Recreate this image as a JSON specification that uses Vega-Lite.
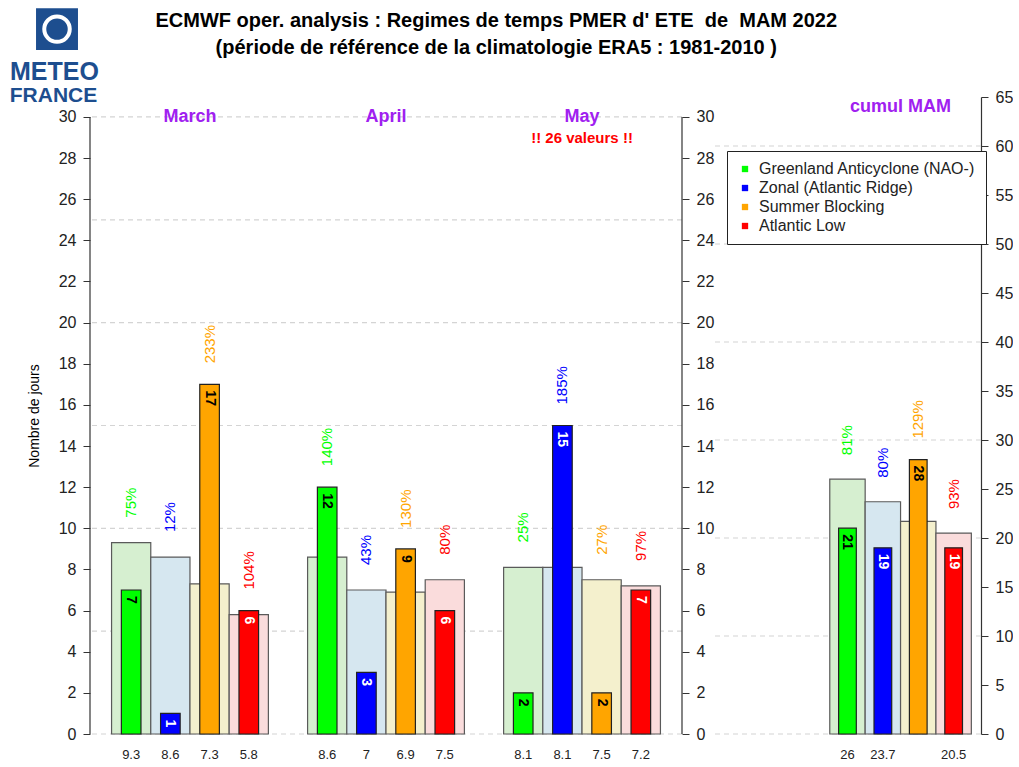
{
  "$schema": "https://vega.github.io/schema/vega-lite/v6.json",
  "padding": {"left": 9, "top": 8, "right": 0, "bottom": 0},
  "background": "white",
  "config": {
    "view": {"stroke": null},
    "font": "Liberation Sans"
  },
  "title": {
    "text": ["ECMWF oper. analysis : Regimes de temps PMER d' ETE\u00a0 de\u00a0 MAM 2022", "(période de référence de la climatologie ERA5 : 1981-2010 )"],
    "fontSize": 20, "fontWeight": "bold", "font": "Liberation Sans", "color": "#000000",
    "lineHeight": 27, "anchor": "middle", "offset": -50, "dx": -15
  },
  "datasets": {
    "monthly": [
      {"month": "March", "regime": "Greenland Anticyclone (NAO-)", "obs": 7, "clim": 9.3, "share": 0.75},
      {"month": "March", "regime": "Zonal (Atlantic Ridge)", "obs": 1, "clim": 8.6, "share": 0.12},
      {"month": "March", "regime": "Summer Blocking", "obs": 17, "clim": 7.3, "share": 2.33},
      {"month": "March", "regime": "Atlantic Low", "obs": 6, "clim": 5.8, "share": 1.04},
      {"month": "April", "regime": "Greenland Anticyclone (NAO-)", "obs": 12, "clim": 8.6, "share": 1.40},
      {"month": "April", "regime": "Zonal (Atlantic Ridge)", "obs": 3, "clim": 7, "share": 0.43},
      {"month": "April", "regime": "Summer Blocking", "obs": 9, "clim": 6.9, "share": 1.30},
      {"month": "April", "regime": "Atlantic Low", "obs": 6, "clim": 7.5, "share": 0.80},
      {"month": "May", "regime": "Greenland Anticyclone (NAO-)", "obs": 2, "clim": 8.1, "share": 0.25},
      {"month": "May", "regime": "Zonal (Atlantic Ridge)", "obs": 15, "clim": 8.1, "share": 1.85},
      {"month": "May", "regime": "Summer Blocking", "obs": 2, "clim": 7.5, "share": 0.27},
      {"month": "May", "regime": "Atlantic Low", "obs": 7, "clim": 7.2, "share": 0.97}
    ],
    "cumul": [
      {"month": "MAM", "regime": "Greenland Anticyclone (NAO-)", "obs": 21, "clim": 26, "share": 0.81},
      {"month": "MAM", "regime": "Zonal (Atlantic Ridge)", "obs": 19, "clim": 23.7, "share": 0.80},
      {"month": "MAM", "regime": "Summer Blocking", "obs": 28, "clim": 21.7, "share": 1.29},
      {"month": "MAM", "regime": "Atlantic Low", "obs": 19, "clim": 20.5, "share": 0.93}
    ],
    "months": [{"month": "March"}, {"month": "April"}, {"month": "May"}],
    "leftgrid": [{"g": 0}, {"g": 5}, {"g": 10}, {"g": 15}, {"g": 20}, {"g": 25}, {"g": 30}],
    "rightgrid": [{"g": 0}, {"g": 10}, {"g": 20}, {"g": 30}, {"g": 40}, {"g": 50}, {"g": 60}],
    "note": [{"note": "!! 26 valeurs !!"}],
    "cumullabel": [{"label": "cumul MAM"}],
    "logo": [{"org": "METEO FRANCE"}]
  },
  "spacing": 32,
  "bounds": "flush",
  "resolve": {
    "scale": {"fill": "independent", "color": "independent", "y": "independent", "x": "independent", "xOffset": "independent"},
    "legend": {"fill": "independent", "color": "independent"}
  },
  "hconcat": [
    {
      "width": 592,
      "height": 637,
      "resolve": {"scale": {"x": "independent"}, "axis": {"y": "independent"}},
      "layer": [
        {
          "data": {"name": "monthly"},
          "resolve": {"scale": {"xOffset": "independent"}},
          "layer": [
            {
              "data": {"name": "leftgrid"},
              "mark": {"type": "rule", "color": "#d4d4d4", "strokeDash": [5, 4], "strokeWidth": 1.2},
              "encoding": {
                "y": {
                  "field": "g", "type": "quantitative",
                  "scale": {"domain": [0, 30.97], "nice": false, "zero": true},
                  "axis": {
                    "orient": "left", "values": [0, 2, 4, 6, 8, 10, 12, 14, 16, 18, 20, 22, 24, 26, 28, 30],
                    "title": "Nombre de jours", "grid": false, "domain": false,
                    "tickSize": 7, "tickColor": "#333333", "labelFontSize": 16, "labelColor": "#222222",
                    "labelPadding": 7, "titleFontSize": 14, "titleFontWeight": "normal", "titleColor": "#000000",
                    "titlePadding": 17
                  }
                }
              }
            },
            {
              "mark": {"type": "bar", "stroke": "#5a5a5a", "strokeWidth": 1.2},
              "encoding": {
                "x": {"field": "month", "type": "nominal", "scale": {"domain": ["March", "April", "May"], "paddingInner": 0.2, "paddingOuter": 0.11}, "axis": null},
                "xOffset": {"field": "regime", "type": "nominal", "scale": {"domain": ["Greenland Anticyclone (NAO-)", "Zonal (Atlantic Ridge)", "Summer Blocking", "Atlantic Low"], "paddingInner": 0, "paddingOuter": 0}},
                "y": {"field": "clim", "type": "quantitative", "title": "Nombre de jours"},
                "fill": {"condition": [
                  {"test": "datum.regime === 'Greenland Anticyclone (NAO-)'", "value": "#d6efd0"},
                  {"test": "datum.regime === 'Zonal (Atlantic Ridge)'", "value": "#d6e7f0"},
                  {"test": "datum.regime === 'Summer Blocking'", "value": "#f4f0cd"}
                ], "value": "#fadcdc"}
              }
            },
            {
              "mark": {"type": "bar", "stroke": "#222222", "strokeWidth": 1.2},
              "encoding": {
                "x": {"field": "month", "type": "nominal"},
                "xOffset": {"field": "regime", "type": "nominal", "scale": {"domain": ["Greenland Anticyclone (NAO-)", "Zonal (Atlantic Ridge)", "Summer Blocking", "Atlantic Low"], "paddingInner": 0.5, "paddingOuter": 0.25}},
                "y": {"field": "obs", "type": "quantitative", "title": "Nombre de jours"},
                "color": {"field": "regime", "type": "nominal", "scale": {"domain": ["Greenland Anticyclone (NAO-)", "Zonal (Atlantic Ridge)", "Summer Blocking", "Atlantic Low"], "range": ["#00ff00", "#0000ff", "#ffa500", "#ff0000"]}, "legend": null}
              }
            },
            {
              "mark": {"type": "text", "angle": 90, "align": "left", "baseline": "middle", "dx": 6, "fontSize": 14, "fontWeight": "bold"},
              "encoding": {
                "x": {"field": "month", "type": "nominal"},
                "xOffset": {"field": "regime", "type": "nominal", "scale": {"type": "point", "padding": 0.5, "domain": ["Greenland Anticyclone (NAO-)", "Zonal (Atlantic Ridge)", "Summer Blocking", "Atlantic Low"]}},
                "y": {"field": "obs", "type": "quantitative", "title": "Nombre de jours"},
                "text": {"field": "obs", "type": "quantitative"},
                "fill": {"condition": {"test": "datum.regime === 'Zonal (Atlantic Ridge)' || datum.regime === 'Atlantic Low'", "value": "white"}, "value": "black"}
              }
            },
            {
              "transform": [{"filter": "datum.obs >= datum.clim"}],
              "mark": {"type": "text", "angle": 270, "align": "left", "baseline": "middle", "dx": 21, "fontSize": 15},
              "encoding": {
                "x": {"field": "month", "type": "nominal"},
                "xOffset": {"field": "regime", "type": "nominal", "scale": {"type": "point", "padding": 0.5, "domain": ["Greenland Anticyclone (NAO-)", "Zonal (Atlantic Ridge)", "Summer Blocking", "Atlantic Low"]}},
                "y": {"field": "obs", "type": "quantitative", "title": "Nombre de jours"},
                "text": {"field": "share", "type": "quantitative", "format": ".0%"},
                "color": {"field": "regime", "type": "nominal", "legend": null}
              }
            },
            {
              "transform": [{"filter": "datum.clim > datum.obs"}],
              "mark": {"type": "text", "angle": 270, "align": "left", "baseline": "middle", "dx": 25, "fontSize": 15},
              "encoding": {
                "x": {"field": "month", "type": "nominal"},
                "xOffset": {"field": "regime", "type": "nominal", "scale": {"type": "point", "padding": 0.5, "domain": ["Greenland Anticyclone (NAO-)", "Zonal (Atlantic Ridge)", "Summer Blocking", "Atlantic Low"]}},
                "y": {"field": "clim", "type": "quantitative", "title": "Nombre de jours"},
                "text": {"field": "share", "type": "quantitative", "format": ".0%"},
                "color": {"field": "regime", "type": "nominal", "legend": null}
              }
            },
            {
              "mark": {"type": "text", "baseline": "middle", "dy": 21, "fontSize": 13, "fill": "#222222"},
              "encoding": {
                "x": {"field": "month", "type": "nominal"},
                "xOffset": {"field": "regime", "type": "nominal", "scale": {"type": "point", "padding": 0.5, "domain": ["Greenland Anticyclone (NAO-)", "Zonal (Atlantic Ridge)", "Summer Blocking", "Atlantic Low"]}},
                "y": {"datum": 0},
                "text": {"field": "clim", "type": "quantitative"}
              }
            },
            {
              "data": {"name": "months"},
              "mark": {"type": "text", "baseline": "middle", "fontSize": 18, "fontWeight": "bold", "fill": "#a020f0"},
              "encoding": {
                "x": {"field": "month", "type": "nominal"},
                "y": {"datum": 30},
                "text": {"field": "month", "type": "nominal"}
              }
            },
            {
              "data": {"name": "note"},
              "mark": {"type": "text", "baseline": "middle", "fontSize": 15, "fontWeight": "bold", "fill": "#ff0000"},
              "encoding": {
                "x": {"datum": "May"},
                "y": {"datum": 29},
                "text": {"field": "note", "type": "nominal"}
              }
            }
          ]
        },
        {
          "data": {"name": "logo"},
          "layer": [
            {
              "mark": {"type": "rule", "color": "#333333", "strokeWidth": 1.2},
              "encoding": {
                "x": {"datum": 0, "type": "quantitative", "scale": {"domain": [0, 15], "nice": false, "zero": false}, "axis": null},
                "y": {"datum": 0, "type": "quantitative", "axis": {
                  "orient": "right", "values": [0, 2, 4, 6, 8, 10, 12, 14, 16, 18, 20, 22, 24, 26, 28, 30],
                  "title": null, "grid": false, "domain": false,
                  "tickSize": 7, "tickColor": "#333333", "labelFontSize": 16, "labelColor": "#222222", "labelPadding": 7
                }},
                "y2": {"datum": 30}
              }
            },
            {
              "mark": {"type": "rule", "color": "#333333", "strokeWidth": 1.2},
              "encoding": {
                "x": {"datum": 15, "type": "quantitative"},
                "y": {"datum": 0, "type": "quantitative"},
                "y2": {"datum": 30}
              }
            },
            {
              "mark": {"type": "point", "shape": "square", "filled": true, "size": 1760, "fill": "#1d4e8f", "opacity": 1, "strokeWidth": 0},
              "encoding": {
                "x": {"datum": -0.836, "type": "quantitative"},
                "y": {"datum": 34.27, "type": "quantitative"}
              }
            },
            {
              "mark": {"type": "point", "shape": "circle", "filled": false, "size": 650, "stroke": "white", "strokeWidth": 4, "opacity": 1},
              "encoding": {
                "x": {"datum": -0.836, "type": "quantitative"},
                "y": {"datum": 34.27, "type": "quantitative"}
              }
            },
            {
              "mark": {"type": "text", "text": "METEO", "fontSize": 25, "fontWeight": "bold", "fill": "#1d4e8f", "align": "center", "baseline": "alphabetic"},
              "encoding": {
                "x": {"datum": -0.9, "type": "quantitative"},
                "y": {"datum": 31.8, "type": "quantitative"}
              }
            },
            {
              "mark": {"type": "text", "text": "FRANCE", "fontSize": 21, "fontWeight": "bold", "fill": "#1d4e8f", "align": "center", "baseline": "alphabetic"},
              "encoding": {
                "x": {"datum": -0.925, "type": "quantitative"},
                "y": {"datum": 30.73, "type": "quantitative"}
              }
            }
          ]
        }
      ]
    },
    {
      "width": 267,
      "height": 637,
      "data": {"name": "cumul"},
      "resolve": {"scale": {"xOffset": "independent"}},
      "layer": [
        {
          "data": {"name": "rightgrid"},
          "mark": {"type": "rule", "color": "#d4d4d4", "strokeDash": [5, 4], "strokeWidth": 1.2},
          "encoding": {
            "y": {
              "field": "g", "type": "quantitative",
              "scale": {"domain": [0, 65], "nice": false, "zero": true},
              "axis": {
                "orient": "right", "values": [0, 5, 10, 15, 20, 25, 30, 35, 40, 45, 50, 55, 60, 65],
                "title": null, "grid": false, "domain": true, "domainColor": "#333333", "domainWidth": 1.2,
                "tickSize": 7, "tickColor": "#333333", "labelFontSize": 16, "labelColor": "#222222", "labelPadding": 7
              }
            }
          }
        },
        {
          "mark": {"type": "bar", "stroke": "#5a5a5a", "strokeWidth": 1.2},
          "encoding": {
            "x": {"field": "month", "type": "nominal", "scale": {"domain": ["MAM"], "paddingInner": 0, "paddingOuter": 0.443, "align": 0.923}, "axis": null},
            "xOffset": {"field": "regime", "type": "nominal", "scale": {"domain": ["Greenland Anticyclone (NAO-)", "Zonal (Atlantic Ridge)", "Summer Blocking", "Atlantic Low"], "paddingInner": 0, "paddingOuter": 0}},
            "y": {"field": "clim", "type": "quantitative", "title": null},
            "fill": {"condition": [
              {"test": "datum.regime === 'Greenland Anticyclone (NAO-)'", "value": "#d6efd0"},
              {"test": "datum.regime === 'Zonal (Atlantic Ridge)'", "value": "#d6e7f0"},
              {"test": "datum.regime === 'Summer Blocking'", "value": "#f4f0cd"}
            ], "value": "#fadcdc"}
          }
        },
        {
          "mark": {"type": "bar", "stroke": "#222222", "strokeWidth": 1.2},
          "encoding": {
            "x": {"field": "month", "type": "nominal"},
            "xOffset": {"field": "regime", "type": "nominal", "scale": {"domain": ["Greenland Anticyclone (NAO-)", "Zonal (Atlantic Ridge)", "Summer Blocking", "Atlantic Low"], "paddingInner": 0.5, "paddingOuter": 0.25}},
            "y": {"field": "obs", "type": "quantitative", "title": null},
            "color": {
              "field": "regime", "type": "nominal",
              "scale": {"domain": ["Greenland Anticyclone (NAO-)", "Zonal (Atlantic Ridge)", "Summer Blocking", "Atlantic Low"], "range": ["#00ff00", "#0000ff", "#ffa500", "#ff0000"]},
              "legend": {
                "orient": "none", "legendX": 13, "legendY": 54, "title": null,
                "strokeColor": "#222222", "fillColor": "white", "padding": 10,
                "symbolType": "square", "symbolSize": 40, "symbolStrokeWidth": 0,
                "labelFontSize": 16, "labelColor": "#222222", "rowPadding": 3, "labelOffset": 6, "labelLimit": 400
              }
            }
          }
        },
        {
          "mark": {"type": "text", "angle": 90, "align": "left", "baseline": "middle", "dx": 6, "fontSize": 14, "fontWeight": "bold"},
          "encoding": {
            "x": {"field": "month", "type": "nominal"},
            "xOffset": {"field": "regime", "type": "nominal", "scale": {"type": "point", "padding": 0.5, "domain": ["Greenland Anticyclone (NAO-)", "Zonal (Atlantic Ridge)", "Summer Blocking", "Atlantic Low"]}},
            "y": {"field": "obs", "type": "quantitative", "title": null},
            "text": {"field": "obs", "type": "quantitative"},
            "fill": {"condition": {"test": "datum.regime === 'Zonal (Atlantic Ridge)' || datum.regime === 'Atlantic Low'", "value": "white"}, "value": "black"}
          }
        },
        {
          "transform": [{"filter": "datum.obs >= datum.clim"}],
          "mark": {"type": "text", "angle": 270, "align": "left", "baseline": "middle", "dx": 21, "fontSize": 15},
          "encoding": {
            "x": {"field": "month", "type": "nominal"},
            "xOffset": {"field": "regime", "type": "nominal", "scale": {"type": "point", "padding": 0.5, "domain": ["Greenland Anticyclone (NAO-)", "Zonal (Atlantic Ridge)", "Summer Blocking", "Atlantic Low"]}},
            "y": {"field": "obs", "type": "quantitative", "title": null},
            "text": {"field": "share", "type": "quantitative", "format": ".0%"},
            "fill": {"condition": [
              {"test": "datum.regime === 'Greenland Anticyclone (NAO-)'", "value": "#00ff00"},
              {"test": "datum.regime === 'Zonal (Atlantic Ridge)'", "value": "#0000ff"},
              {"test": "datum.regime === 'Summer Blocking'", "value": "#ffa500"}
            ], "value": "#ff0000"}
          }
        },
        {
          "transform": [{"filter": "datum.clim > datum.obs"}],
          "mark": {"type": "text", "angle": 270, "align": "left", "baseline": "middle", "dx": 24, "fontSize": 15},
          "encoding": {
            "x": {"field": "month", "type": "nominal"},
            "xOffset": {"field": "regime", "type": "nominal", "scale": {"type": "point", "padding": 0.5, "domain": ["Greenland Anticyclone (NAO-)", "Zonal (Atlantic Ridge)", "Summer Blocking", "Atlantic Low"]}},
            "y": {"field": "clim", "type": "quantitative", "title": null},
            "text": {"field": "share", "type": "quantitative", "format": ".0%"},
            "fill": {"condition": [
              {"test": "datum.regime === 'Greenland Anticyclone (NAO-)'", "value": "#00ff00"},
              {"test": "datum.regime === 'Zonal (Atlantic Ridge)'", "value": "#0000ff"},
              {"test": "datum.regime === 'Summer Blocking'", "value": "#ffa500"}
            ], "value": "#ff0000"}
          }
        },
        {
          "transform": [{"filter": "datum.regime !== 'Summer Blocking'"}],
          "mark": {"type": "text", "baseline": "middle", "dy": 21, "fontSize": 13, "fill": "#222222"},
          "encoding": {
            "x": {"field": "month", "type": "nominal"},
            "xOffset": {"field": "regime", "type": "nominal", "scale": {"type": "point", "padding": 0.5, "domain": ["Greenland Anticyclone (NAO-)", "Zonal (Atlantic Ridge)", "Summer Blocking", "Atlantic Low"]}},
            "y": {"datum": 0},
            "text": {"field": "clim", "type": "quantitative"}
          }
        },
        {
          "data": {"name": "cumullabel"},
          "mark": {"type": "text", "baseline": "middle", "fontSize": 18, "fontWeight": "bold", "fill": "#a020f0"},
          "encoding": {
            "x": {"datum": "MAM"},
            "y": {"datum": 64},
            "text": {"field": "label", "type": "nominal"}
          }
        }
      ]
    }
  ]
}
